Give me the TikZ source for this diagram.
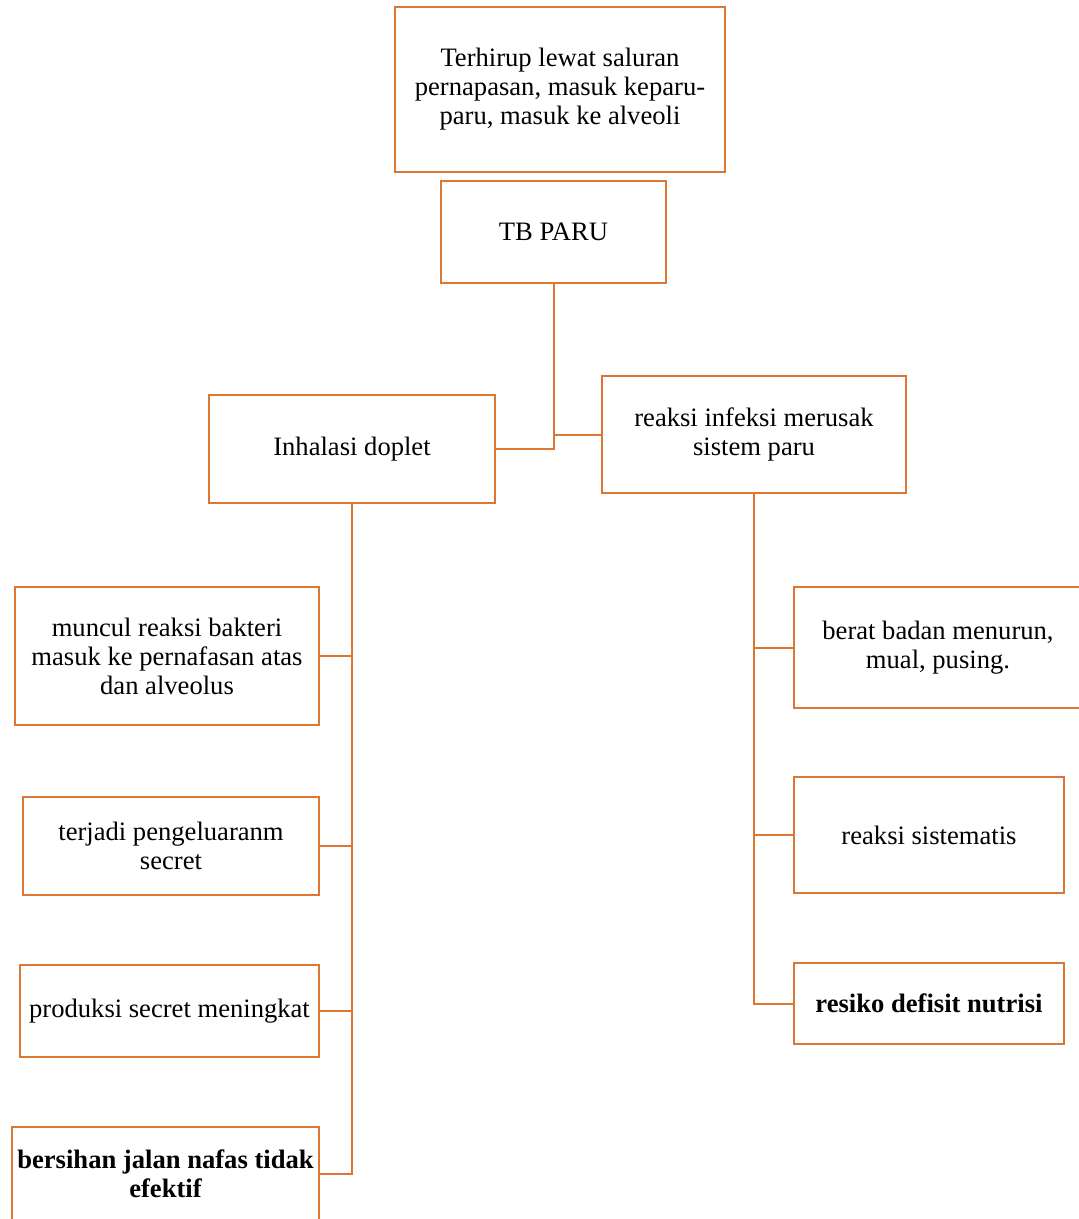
\documentclass[tikz,border=0pt]{standalone}
\usepackage{fontspec}
\setmainfont{Liberation Serif}
\usepackage{xcolor}
\usepackage{tikz}
\usetikzlibrary{positioning}
\definecolor{boxorange}{HTML}{DE7633}
\tikzset{
  flowbox/.style={draw=boxorange, line width=1pt, outer sep=0pt, inner sep=2pt, align=center, font=\fontsize{13.3}{14.5}\selectfont},
  link/.style={draw=boxorange, line width=1pt}
}

\begin{document}
\begin{tikzpicture}[x=0.5pt, y=-0.5pt]
\useasboundingbox (0,0) rectangle (1078,1219);

\node[flowbox, minimum width=165pt, minimum height=82.5pt] (hirup) at (560,89.5) {Terhirup lewat saluran\\pernapasan, masuk keparu-\\paru, masuk ke alveoli};
\node[flowbox, minimum width=112.5pt, minimum height=51pt] (tbparu) at (553.5,232) {TB PARU};
\node[flowbox, minimum width=143pt, minimum height=54pt] (inhalasi) at (352,449) {Inhalasi doplet};
\node[flowbox, minimum width=152pt, minimum height=58.5pt] (reaksi) at (754,434.5) {reaksi infeksi merusak\\sistem paru};

\node[flowbox, minimum width=152pt, minimum height=69pt] (muncul) at (167,656) {muncul reaksi bakteri\\masuk ke pernafasan atas\\dan alveolus};
\node[flowbox, minimum width=148pt, minimum height=49pt] (keluar) at (171,846) {terjadi pengeluaranm\\secret};
\node[flowbox, minimum width=149.5pt, minimum height=46pt] (produksi) at (169.5,1011) {produksi secret meningkat};
\node[flowbox, minimum width=153.5pt, minimum height=46.5pt, font=\fontsize{13.3}{14.5}\selectfont\bfseries] (bersihan) at (165.5,1173.5) {bersihan jalan nafas tidak\\efektif};

\node[flowbox, minimum width=144pt, minimum height=60.5pt] (berat) at (938,647.5) {berat badan menurun,\\mual, pusing.};
\node[flowbox, minimum width=135pt, minimum height=58pt] (sistem) at (929,835) {reaksi sistematis};
\node[flowbox, minimum width=135pt, minimum height=40.5pt, font=\fontsize{13.3}{14.5}\selectfont\bfseries] (nutrisi) at (929,1003.5) {resiko defisit nutrisi};

\draw[link] (tbparu.south) |- (inhalasi.east);
\draw[link] (tbparu.south) |- (reaksi.west);

\draw[link] (inhalasi.south) |- (muncul.east);
\draw[link] (inhalasi.south) |- (keluar.east);
\draw[link] (inhalasi.south) |- (produksi.east);
\draw[link] (inhalasi.south) |- (bersihan.east);

\draw[link] (reaksi.south) |- (berat.west);
\draw[link] (reaksi.south) |- (sistem.west);
\draw[link] (reaksi.south) |- (nutrisi.west);
\end{tikzpicture}
\end{document}
